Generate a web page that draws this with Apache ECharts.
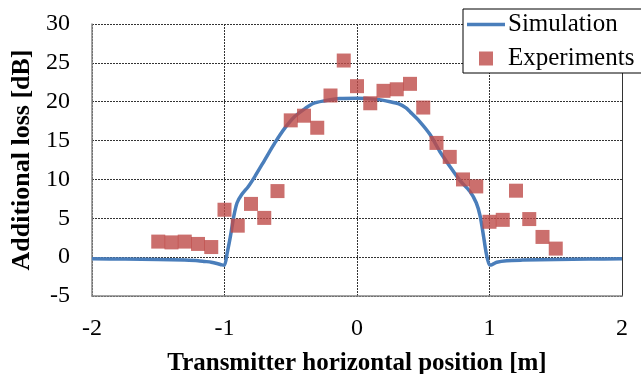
<!DOCTYPE html>
<html>
<head>
<meta charset="utf-8">
<style>
  html, body { margin: 0; padding: 0; background: #fff; }
  #chart { width: 641px; height: 374px; }
</style>
<script src="https://cdn.jsdelivr.net/npm/echarts@6/dist/echarts.min.js"></script>
</head>
<body>
<div id="chart"></div>
<script>
// Simulated additional loss along the transmitter track
const simX = [-2, -1.75, -1.5, -1.3, -1.2, -1.15, -1.1, -1.05, -1.02, -1.0, -0.98, -0.955, -0.93, -0.905, -0.87, -0.82, -0.77, -0.7, -0.62, -0.545, -0.47, -0.39, -0.33, -0.25, -0.13, 0, 0.15, 0.25, 0.32, 0.37, 0.4, 0.47, 0.55, 0.625, 0.7, 0.775, 0.85, 0.9, 0.93, 0.955, 0.975, 1.0, 1.02, 1.055, 1.13, 1.25, 1.5, 1.75, 2];
const simY = [-0.22, -0.25, -0.3, -0.38, -0.45, -0.55, -0.65, -0.85, -1.0, -1.05, 0.5, 2.7, 5.25, 7.0, 8.05, 9.1, 10.4, 12.4, 14.7, 16.6, 18.1, 19.15, 19.8, 20.1, 20.4, 20.45, 20.3, 20.0, 19.7, 19.2, 18.7, 17.5, 15.8, 13.6, 11.7, 9.9, 8.5, 7.0, 5.25, 2.7, 0.55, -1.0, -0.95, -0.65, -0.45, -0.38, -0.3, -0.25, -0.22];

// Measured additional loss
const expX = [-1.5, -1.4, -1.3, -1.2, -1.1, -1.0, -0.9, -0.8, -0.7, -0.6, -0.5, -0.4, -0.3, -0.2, -0.1, 0, 0.1, 0.2, 0.3, 0.4, 0.5, 0.6, 0.7, 0.8, 0.9, 1.0, 1.1, 1.2, 1.3, 1.4, 1.5];
const expY = [2.0, 1.9, 2.0, 1.7, 1.3, 6.1, 4.05, 6.85, 5.05, 8.5, 17.6, 18.2, 16.65, 20.8, 25.3, 22.0, 19.8, 21.4, 21.6, 22.3, 19.25, 14.7, 12.9, 10.0, 9.1, 4.55, 4.8, 8.55, 4.9, 2.6, 1.1];

const xTicks = { min: -2, max: 2, interval: 1 };
const yTicks = { min: -5, max: 30, interval: 5 };

const FONT = 'Liberation Serif';
const gridDots = { color: '#333', width: 1, type: [2, 1] };
const BLUE = '#4a7ebb';
const RED = '#be4b48';

const chart = echarts.init(document.getElementById('chart'));
chart.setOption({
  animation: false,
  backgroundColor: '#fff',
  textStyle: { fontFamily: FONT, color: '#000' },
  grid: { left: 92, right: 19, top: 24, bottom: 78, containLabel: false, outerBoundsMode: 'none' },
  legend: {
    orient: 'vertical',
    left: 463,
    top: 9,
    backgroundColor: '#fff',
    borderColor: '#000',
    borderWidth: 1,
    borderRadius: 0,
    padding: [3, 24, 2, 4],
    itemGap: 9,
    itemWidth: 38,
    itemHeight: 14,
    textStyle: { fontFamily: FONT, fontSize: 25, color: '#000', padding: [0, 0, 0, -2] },
    data: [
      { name: 'Simulation', icon: 'path://M0 0M38 14M0 5.25H38V8.75H0Z' },
      { name: 'Experiments', icon: 'path://M0 0M38 14M12 0H26V14H12Z' }
    ]
  },
  xAxis: {
    type: 'value',
    min: xTicks.min, max: xTicks.max, interval: xTicks.interval,
    name: 'Transmitter horizontal position [m]',
    nameLocation: 'middle',
    nameGap: 55,
    nameTextStyle: { fontFamily: FONT, fontSize: 25, fontWeight: 'bold', color: '#000' },
    axisLine: { show: true, onZero: false, lineStyle: { color: '#888', width: 1.5 } },
    axisTick: { show: false },
    axisLabel: { fontFamily: FONT, fontSize: 24, color: '#000', margin: 21 },
    splitLine: { show: true, lineStyle: gridDots }
  },
  yAxis: [{
    type: 'value',
    min: yTicks.min, max: yTicks.max, interval: yTicks.interval,
    name: 'Additional loss [dB]',
    nameLocation: 'middle',
    nameGap: 54,
    nameTextStyle: { fontFamily: FONT, fontSize: 26, fontWeight: 'bold', color: '#000' },
    axisLine: { show: true, onZero: false, lineStyle: { color: '#888', width: 1.5 } },
    axisTick: { show: false },
    axisLabel: { fontFamily: FONT, fontSize: 24, color: '#000', margin: 22 },
    splitLine: { show: true, lineStyle: gridDots }
  }, {
    type: 'value',
    position: 'right',
    min: yTicks.min, max: yTicks.max, interval: yTicks.interval,
    axisLine: { show: true, onZero: false, lineStyle: { color: '#333', width: 1 } },
    axisTick: { show: false },
    axisLabel: { show: false },
    splitLine: { show: false }
  }],
  series: [{
    name: 'Simulation',
    type: 'line',
    data: simX.map((x, i) => [x, simY[i]]),
    symbol: 'none',
    showSymbol: false,
    smooth: 0.25,
    lineStyle: { color: BLUE, width: 3.5 },
    itemStyle: { color: BLUE },
    z: 2
  }, {
    name: 'Experiments',
    type: 'scatter',
    data: expX.map((x, i) => [x, expY[i]]),
    symbol: 'rect',
    symbolSize: 14,
    itemStyle: { color: RED },
    z: 3
  }]
});
</script>
</body>
</html>
